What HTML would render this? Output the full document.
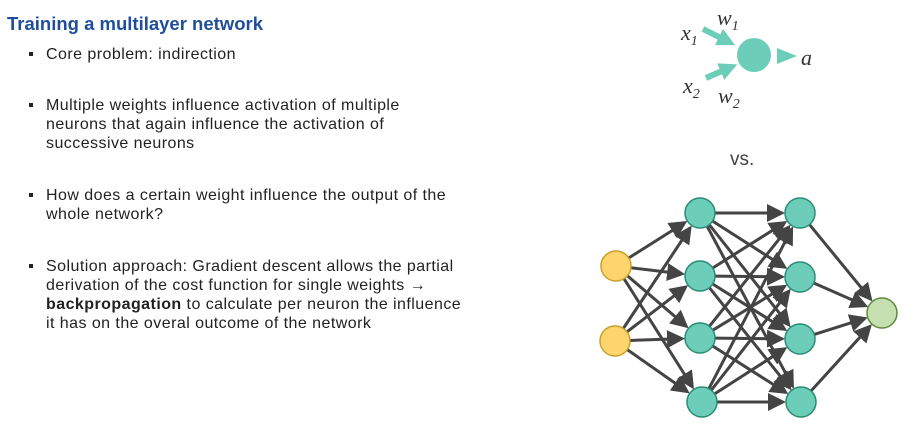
<!DOCTYPE html>
<html><head><meta charset="utf-8"><style>
body{margin:0;width:914px;height:426px;background:#fff;position:relative;overflow:hidden;font-family:"Liberation Sans",sans-serif;}
.t{position:absolute;left:7px;top:13px;font-size:18.5px;font-weight:bold;color:#1f4e9c;}
.b{position:absolute;left:46px;font-size:16px;line-height:19px;color:#222;width:440px;letter-spacing:0.45px}
.b:before{content:"";position:absolute;left:-17px;top:7px;width:4px;height:4px;background:#222}
</style></head><body>
<div class="t">Training a multilayer network</div>
<div class="b" style="top:45px">Core problem: indirection</div>
<div class="b" style="top:96px">Multiple weights influence activation of multiple<br>neurons that again influence the activation of<br>successive neurons</div>
<div class="b" style="top:186px">How does a certain weight influence the output of the<br>whole network?</div>
<div class="b" style="top:257px">Solution approach: Gradient descent allows the partial<br>derivation of the cost function for single weights →<br><b>backpropagation</b> to calculate per neuron the influence<br>it has on the overal outcome of the network</div>
<svg id="s" width="914" height="426" style="position:absolute;left:0;top:0">
<defs><marker id="m" markerWidth="6" markerHeight="6" refX="5" refY="3" orient="auto" markerUnits="strokeWidth"><path d="M0,0L6,3L0,6z" fill="#444"/></marker>
<marker id="g" markerWidth="3" markerHeight="3" refX="1.5" refY="1.5" orient="auto" markerUnits="strokeWidth"><path d="M0,0L3,1.5L0,3z" fill="#6ccdb8"/></marker></defs>
<line x1="703" y1="29" x2="727" y2="41" stroke="#6ccdb8" stroke-width="6" marker-end="url(#g)"/>
<line x1="706" y1="78" x2="729" y2="68" stroke="#6ccdb8" stroke-width="6" marker-end="url(#g)"/>
<circle cx="754" cy="55" r="17" fill="#6ccdb8"/>
<path d="M777,48L797,56L777,64z" fill="#6ccdb8"/>
<g font-family="Liberation Serif,serif" font-style="italic" fill="#333" font-size="22">
<text x="681" y="40">x<tspan font-size="14" dy="5">1</tspan></text>
<text x="717" y="25">w<tspan font-size="14" dy="5">1</tspan></text>
<text x="683" y="93">x<tspan font-size="14" dy="5">2</tspan></text>
<text x="718" y="103">w<tspan font-size="14" dy="5">2</tspan></text>
<text x="801" y="65">a</text></g>
<text x="730" y="165" font-size="19" fill="#444" font-family="Liberation Sans,sans-serif">vs.</text>
<g id="e" stroke="#444" stroke-width="3"></g><g id="n"></g>
</svg>
<script>
var I=[[616,266],[615,341]],H1=[[700,213],[700,276],[700,338],[702,402]],H2=[[800,213],[800,277],[800,339],[801,402]],O=[[882,313]];
var r=15,e=document.getElementById('e'),n=document.getElementById('n'),ns='http://www.w3.org/2000/svg';
function L(a,b){var dx=b[0]-a[0],dy=b[1]-a[1],d=Math.hypot(dx,dy);var l=document.createElementNS(ns,'line');
l.setAttribute('x1',a[0]+dx/d*r);l.setAttribute('y1',a[1]+dy/d*r);l.setAttribute('x2',b[0]-dx/d*(r+3));l.setAttribute('y2',b[1]-dy/d*(r+3));l.setAttribute('marker-end','url(#m)');e.appendChild(l);}
[[I,H1],[H1,H2],[H2,O]].forEach(function(p){p[0].forEach(function(a){p[1].forEach(function(b){L(a,b)})})});
function C(p,f,s){p.forEach(function(c){var k=document.createElementNS(ns,'circle');k.setAttribute('cx',c[0]);k.setAttribute('cy',c[1]);k.setAttribute('r',r);k.setAttribute('fill',f);k.setAttribute('stroke',s);k.setAttribute('stroke-width',1.5);n.appendChild(k)})}
C(I,'#fed56c','#c9a02a');C(H1,'#6ccdb8','#2a8c74');C(H2,'#6ccdb8','#2a8c74');C(O,'#c5dfb0','#5e8a3c');
</script>
</body></html>
